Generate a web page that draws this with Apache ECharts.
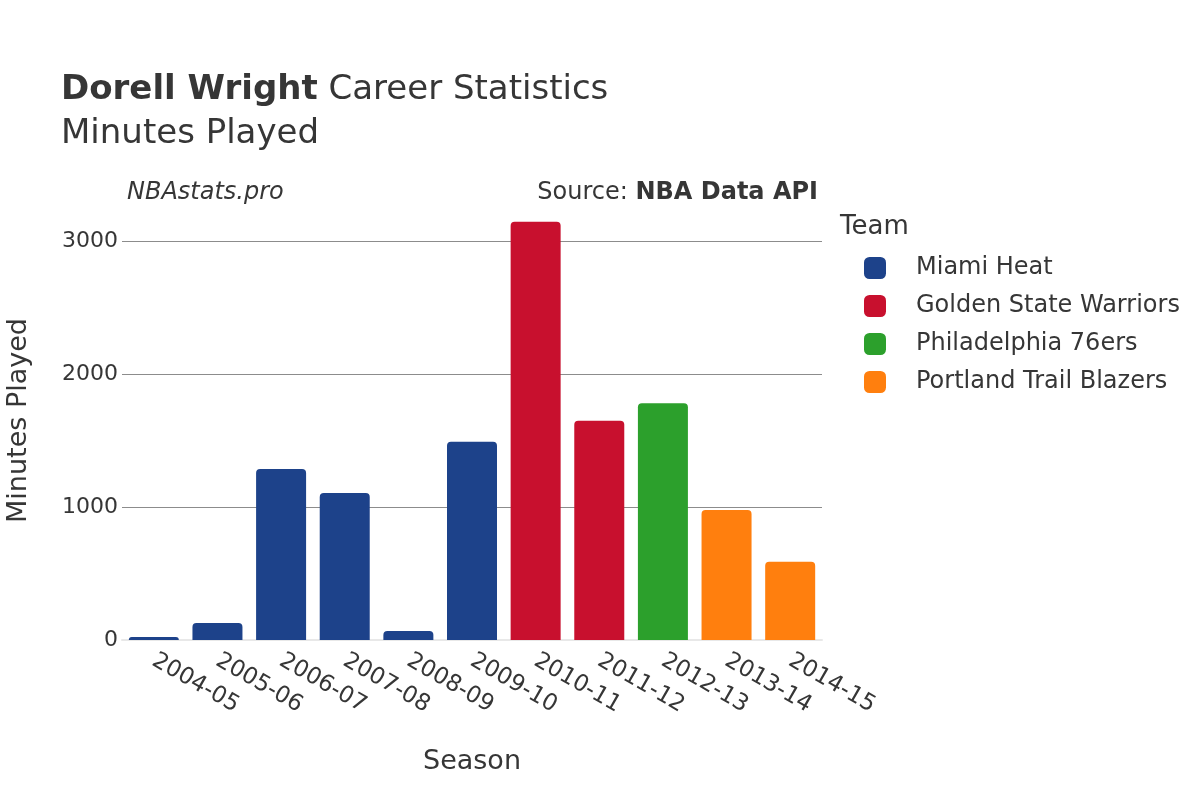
<!DOCTYPE html>
<html>
<head>
<meta charset="utf-8">
<script src="https://cdn.jsdelivr.net/npm/echarts@6/dist/echarts.min.js"></script>
<style>
html,body{margin:0;padding:0;background:#fff;}
#chart{width:1200px;height:800px;}
</style>
</head>
<body>
<div id="chart"></div>
<script>
const seasons = ['2004-05','2005-06','2006-07','2007-08','2008-09','2009-10','2010-11','2011-12','2012-13','2013-14','2014-15'];
const teams = ['Miami Heat','Golden State Warriors','Philadelphia 76ers','Portland Trail Blazers'];
const teamColors = ['#1d428a','#c8102e','#2ca02c','#ff7f0e'];
const seasonTeam = ['Miami Heat','Miami Heat','Miami Heat','Miami Heat','Miami Heat','Miami Heat','Golden State Warriors','Golden State Warriors','Philadelphia 76ers','Portland Trail Blazers','Portland Trail Blazers'];
const minutes = [22, 128, 1286, 1105, 68, 1491, 3144, 1648, 1780, 977, 589];
const yTicks = [0, 1000, 2000, 3000];

const FONT = 'DejaVu Sans';
const TXT = '#363636';

const series = teams.map((t, i) => ({
  name: t,
  type: 'bar',
  stack: 'all',
  barWidth: 50,
  itemStyle: { color: teamColors[i], borderRadius: [4, 4, 0, 0] },
  data: minutes.map((v, k) => seasonTeam[k] === t ? v : '-')
}));

const chart = echarts.init(document.getElementById('chart'), null, { renderer: 'canvas' });
chart.setOption({
  backgroundColor: '#ffffff',
  animation: false,
  textStyle: { fontFamily: FONT, color: TXT },
  title: {
    left: 56, top: 63,
    text: '{b|Dorell Wright}{n| Career Statistics}\n{n|Minutes Played}',
    textStyle: {
      fontWeight: 'normal',
      rich: {
        b: { fontFamily: FONT, fontWeight: 'bold', fontSize: 34, color: TXT, lineHeight: 44 },
        n: { fontFamily: FONT, fontWeight: 'normal', fontSize: 34, color: TXT, lineHeight: 44 }
      }
    }
  },
  graphic: [
    { type: 'text', left: 127, top: 181, style: { text: 'NBAstats.pro', font: 'italic 24px "DejaVu Sans"', fill: TXT } },
    { type: 'text', right: 382, top: 181, style: {
        text: '{n|Source: }{b|NBA Data API}',
        rich: {
          n: { fontFamily: FONT, fontSize: 24, fill: TXT, color: TXT },
          b: { fontFamily: FONT, fontSize: 24, fontWeight: 'bold', fill: TXT, color: TXT }
        } } },
    { type: 'text', left: 840, top: 214, style: { text: 'Team', font: '26px "DejaVu Sans"', fill: TXT } }
  ],
  legend: {
    orient: 'vertical',
    left: 859, top: 251,
    itemWidth: 22, itemHeight: 22, itemGap: 14,
    icon: 'roundRect',
    data: teams,
    textStyle: { fontFamily: FONT, fontSize: 24, color: TXT, padding: [0, 0, 0, 25] }
  },
  grid: { left: 122, right: 378, top: 201, bottom: 160, containLabel: false, outerBoundsMode: 'none' },
  xAxis: {
    type: 'category',
    data: seasons,
    name: 'Season',
    nameLocation: 'middle',
    nameGap: 108,
    nameTextStyle: { fontFamily: FONT, fontSize: 27, color: TXT },
    axisLine: { show: true, lineStyle: { color: '#e8e8e8', width: 2 } },
    axisTick: { show: false },
    axisLabel: { rotate: -30, margin: 19, fontFamily: FONT, fontSize: 23, color: TXT, interval: 0 }
  },
  yAxis: {
    type: 'value',
    min: 0, max: 3300, interval: 1000,
    name: 'Minutes Played',
    nameLocation: 'middle',
    nameGap: 90,
    nameTextStyle: { fontFamily: FONT, fontSize: 27, color: TXT },
    axisLine: { show: false },
    axisTick: { show: false },
    axisLabel: {
      fontFamily: FONT, fontSize: 22, color: TXT, margin: 4, showMaxLabel: false,
      formatter: v => yTicks.includes(v) ? String(v) : ''
    },
    splitLine: { show: true, showMinLine: false, showMaxLine: false, lineStyle: { color: '#8c8c8c', width: 1 } }
  },
  series: series
});
</script>
</body>
</html>
